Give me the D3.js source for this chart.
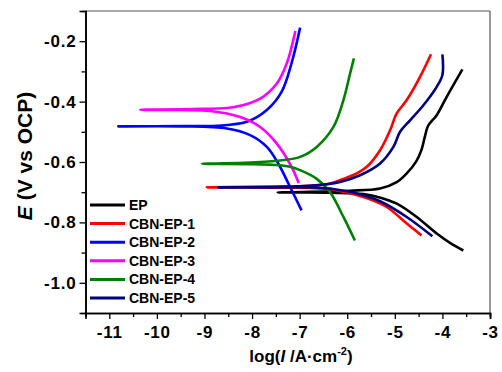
<!DOCTYPE html>
<html>
<head>
<meta charset="utf-8">
<script src="https://cdn.jsdelivr.net/npm/d3@7"></script>
<style>
  body { margin: 0; background: #fff; }
  svg { display: block; font-family: "Liberation Sans", Arial, sans-serif; font-weight: bold; }
</style>
</head>
<body>
<svg id="chart" width="502" height="372"></svg>
<script>
// ---- data (log|i| in A/cm2, E in V vs OCP) ----
const seriesNames = ["EP", "CBN-EP-1", "CBN-EP-2", "CBN-EP-3", "CBN-EP-4", "CBN-EP-5"];
const seriesColors = ["#000000", "#ff0000", "#0000ff", "#ff00ff", "#008000", "#000080"];

const epAnodic = [[-7.46,-0.700],[-6.8,-0.699],[-6.36,-0.697],[-5.94,-0.695],[-5.31,-0.688],[-4.96,-0.667],[-4.75,-0.638],[-4.55,-0.598],[-4.44,-0.560],[-4.37,-0.517],[-4.30,-0.480],[-4.12,-0.445],[-3.91,-0.384],[-3.58,-0.293]];
const epCathodic = [[-7.46,-0.701],[-6.8,-0.701],[-6.36,-0.702],[-5.66,-0.706],[-5.30,-0.718],[-4.96,-0.738],[-4.54,-0.782],[-4.12,-0.837],[-3.80,-0.872],[-3.56,-0.893]];

const ep1Anodic = [[-8.95,-0.683],[-7.5,-0.682],[-6.8,-0.679],[-6.36,-0.671],[-6.01,-0.652],[-5.80,-0.638],[-5.59,-0.616],[-5.31,-0.561],[-5.10,-0.495],[-4.96,-0.439],[-4.75,-0.395],[-4.47,-0.318],[-4.24,-0.243]];
const ep1Cathodic = [[-8.95,-0.684],[-7.5,-0.685],[-6.8,-0.686],[-6.36,-0.690],[-5.66,-0.716],[-5.17,-0.749],[-4.75,-0.804],[-4.44,-0.843]];

const ep2Anodic = [[-10.81,-0.481],[-9.5,-0.481],[-8.74,-0.480],[-8.11,-0.467],[-7.69,-0.428],[-7.38,-0.368],[-7.17,-0.273],[-6.99,-0.155]];
const ep2Cathodic = [[-10.81,-0.482],[-9.5,-0.482],[-8.53,-0.489],[-8.04,-0.511],[-7.69,-0.550],[-7.45,-0.605],[-7.20,-0.683],[-6.96,-0.760]];

const ep3Anodic = [[-10.35,-0.426],[-9.09,-0.424],[-8.40,-0.419],[-7.83,-0.390],[-7.48,-0.340],[-7.27,-0.273],[-7.09,-0.166]];
const ep3Cathodic = [[-10.35,-0.427],[-9.5,-0.428],[-8.88,-0.431],[-8.25,-0.451],[-7.83,-0.484],[-7.48,-0.539],[-7.17,-0.616],[-7.02,-0.670]];

const ep4Anodic = [[-9.05,-0.605],[-8.04,-0.602],[-7.41,-0.595],[-6.99,-0.583],[-6.64,-0.550],[-6.29,-0.484],[-6.08,-0.395],[-5.94,-0.307],[-5.86,-0.257]];
const ep4Cathodic = [[-9.05,-0.606],[-8.0,-0.607],[-7.41,-0.611],[-7.20,-0.616],[-6.99,-0.627],[-6.64,-0.656],[-6.36,-0.700],[-6.08,-0.782],[-5.84,-0.860]];

const ep5Anodic = [[-8.71,-0.683],[-7.5,-0.682],[-6.8,-0.679],[-6.15,-0.666],[-5.73,-0.644],[-5.31,-0.605],[-5.03,-0.550],[-4.89,-0.500],[-4.68,-0.462],[-4.40,-0.412],[-4.12,-0.351],[-4.00,-0.312],[-4.00,-0.244]];
const ep5Cathodic = [[-8.71,-0.684],[-7.5,-0.684],[-6.8,-0.684],[-6.36,-0.688],[-5.66,-0.710],[-5.31,-0.730],[-4.75,-0.782],[-4.21,-0.846]];

const anodicBranches = [epAnodic, ep1Anodic, ep2Anodic, ep3Anodic, ep4Anodic, ep5Anodic];
const cathodicBranches = [epCathodic, ep1Cathodic, ep2Cathodic, ep3Cathodic, ep4Cathodic, ep5Cathodic];

const xTicks = [-11, -10, -9, -8, -7, -6, -5, -4, -3];
const xMinorTicks = [-11.5, -10.5, -9.5, -8.5, -7.5, -6.5, -5.5, -4.5, -3.5];
const yTicks = [-0.2, -0.4, -0.6, -0.8, -1.0];
const yMinorTicks = [-0.3, -0.5, -0.7, -0.9];

// ---- layout ----
const svg = d3.select("#chart");
const L = 85.5, T = 11, R = 490, B = 313;
const x = d3.scaleLinear().domain([-11.5, -3]).range([L, R]);
const y = d3.scaleLinear().domain([-1.1, -0.1]).range([B, T]);

// curves
const line = d3.line().x(d => x(d[0])).y(d => y(d[1])).curve(d3.curveCatmullRom.alpha(0.5));
const g = svg.append("g");
seriesNames.forEach((name, i) => {
  const pts = cathodicBranches[i].slice().reverse().concat(anodicBranches[i].slice(1));
  g.append("path").datum(pts).attr("d", line)
    .attr("fill", "none").attr("stroke", seriesColors[i])
    .attr("stroke-width", 2.6).attr("stroke-linejoin", "round");
});

// frame
svg.append("line").attr("x1", L).attr("x2", R).attr("y1", T).attr("y2", T).attr("stroke", "#555").attr("stroke-width", 1.2);
svg.append("line").attr("x1", R).attr("x2", R).attr("y1", T).attr("y2", B).attr("stroke", "#555").attr("stroke-width", 1.2);

// axes
const xAxis = svg.append("g").attr("transform", `translate(0,${B})`)
  .call(d3.axisBottom(x).tickValues(xTicks).tickFormat(d3.format("d")).tickSize(6).tickPadding(7));
const xMinor = svg.append("g").attr("transform", `translate(0,${B})`)
  .call(d3.axisBottom(x).tickValues(xMinorTicks).tickFormat("").tickSize(4));
const yAxis = svg.append("g").attr("transform", `translate(${L},0)`)
  .call(d3.axisLeft(y).tickValues(yTicks).tickFormat(d3.format(".1f")).tickSize(6).tickPadding(3));
const yMinor = svg.append("g").attr("transform", `translate(${L},0)`)
  .call(d3.axisLeft(y).tickValues(yMinorTicks).tickFormat("").tickSize(4));

[xAxis, xMinor, yAxis, yMinor].forEach(a => {
  a.select(".domain").attr("stroke", "#000").attr("stroke-width", 1.6);
  a.selectAll(".tick line").attr("stroke", "#000").attr("stroke-width", 1.3);
  a.selectAll(".tick text").attr("fill", "#000")
    .style("font-size", "17px").style("font-weight", "bold")
    .style("font-family", '"Liberation Sans", Arial, sans-serif')
    .attr("letter-spacing", "0.8px");
});
yAxis.selectAll(".tick text").text(d => d3.format(".1f")(d).replace("−", "-"));
xAxis.selectAll(".tick text").text(d => String(d).replace("−", "-"));

// axis titles
const xt = svg.append("text").attr("x", 301).attr("y", 362).attr("text-anchor", "middle")
  .style("font-size", "17px").attr("fill", "#000");
xt.append("tspan").text("log(");
xt.append("tspan").style("font-style", "italic").text("I");
xt.append("tspan").text(" /A\u00B7cm");
xt.append("tspan").attr("dy", -7).style("font-size", "11px").text("-2");
xt.append("tspan").attr("dy", 7).text(")");

const yt = svg.append("text").attr("transform", "translate(32,156) rotate(-90)")
  .attr("text-anchor", "middle").style("font-size", "21px").attr("fill", "#000");
yt.append("tspan").style("font-style", "italic").text("E");
yt.append("tspan").text(" (V vs OCP)");

// legend
const lg = svg.append("g");
seriesNames.forEach((name, i) => {
  const yy = 205 + i * 18.6;
  lg.append("line").attr("x1", 90).attr("x2", 125).attr("y1", yy).attr("y2", yy)
    .attr("stroke", seriesColors[i]).attr("stroke-width", 3);
  lg.append("text").attr("x", 129).attr("y", yy + 5).style("font-size", "14px")
    .attr("fill", "#000").text(name);
});
</script>
</body>
</html>
